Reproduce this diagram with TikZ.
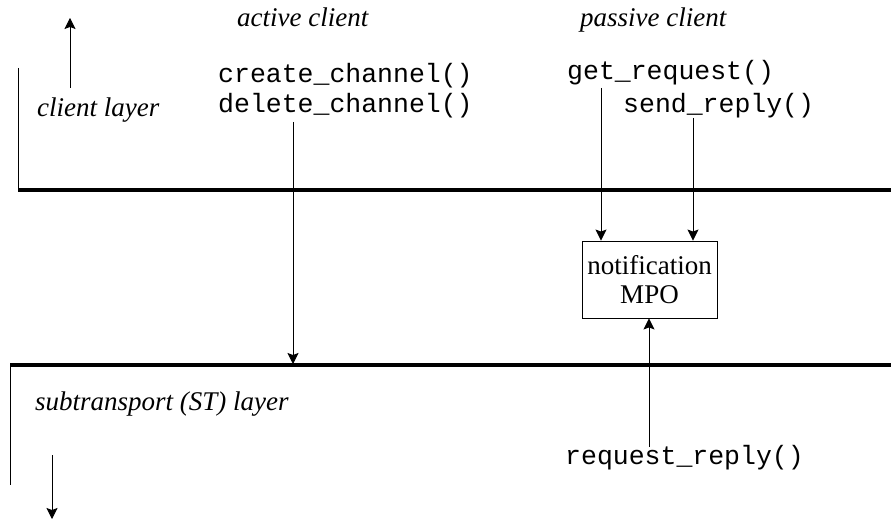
\documentclass[tikz,border=0pt]{standalone}
\usepackage{fontspec}
\setmainfont{Liberation Serif}
\setmonofont{Liberation Mono}
\usetikzlibrary{arrows.meta}
\begin{document}
\begin{tikzpicture}[x=1pt,y=-1pt,
  thin line/.style={line width=0.9pt},
  layer line/.style={line width=3.2pt},
  arr/.style={line width=0.9pt,-{Stealth[length=11pt,width=11pt,inset=2pt]}},
  ital/.style={font=\fontsize{27}{31}\selectfont\itshape,inner sep=0pt,anchor=base west},
  code/.style={font=\fontsize{26.5}{30}\selectfont\ttfamily,inner sep=0pt,anchor=base west},
  mpo/.style={draw,line width=0.9pt,minimum width=135pt,minimum height=77pt,inner sep=0pt,
    align=center,font=\fontsize{27}{29}\selectfont}]
\useasboundingbox (0,0) rectangle (891,526);
% texts
\node[ital] (active) at (237,27) {active client};
\node[ital] (passive) at (580,27) {passive client};
\node[ital] (clientlayer) at (37,117) {client layer};
\node[ital] (stlayer) at (35,410) {subtransport (ST) layer};
\node[code] (create) at (218,83) {create\_channel()};
\node[code] (delete) at (218,113) {delete\_channel()};
\node[code] (getreq) at (567,80) {get\_request()};
\node[code] (sendrep) at (623,113) {send\_reply()};
\node[code] (reqrep) at (565,464) {request\_reply()};
\node[mpo] (box) at (649.5,279.5) {notification\\MPO};
% layer lines
\coordinate (c1) at (18,68);
\coordinate (c2) at (18,190);
\coordinate (c3) at (891,190);
\draw[thin line] (c1) -- (c2);
\draw[layer line] (c2) -- (c3);
\coordinate (s1) at (10,365);
\coordinate (s2) at (891,365);
\coordinate (s3) at (10,485);
\draw[layer line] (s1) -- (s2);
\draw[thin line] (s1) -- (s3);
% direction arrows
\coordinate (u1) at (70,88);
\coordinate (u2) at (70,18);
\draw[arr] (u1) -- (u2);
\coordinate (d1) at (52,455);
\coordinate (d2) at (52,519);
\draw[arr] (d1) -- (d2);
% call connectors
\coordinate (delfrom) at (293,122);
\coordinate (delto) at (293,364);
\draw[arr] (delfrom) -- (delto);
\coordinate (getfrom) at (601,88);
\draw[arr] (getfrom) -- (getfrom |- box.north);
\coordinate (sendfrom) at (693,118);
\draw[arr] (sendfrom) -- (sendfrom |- box.north);
\coordinate (reqfrom) at (649,447);
\draw[arr] (reqfrom) -- (reqfrom |- box.south);
\end{tikzpicture}
\end{document}
